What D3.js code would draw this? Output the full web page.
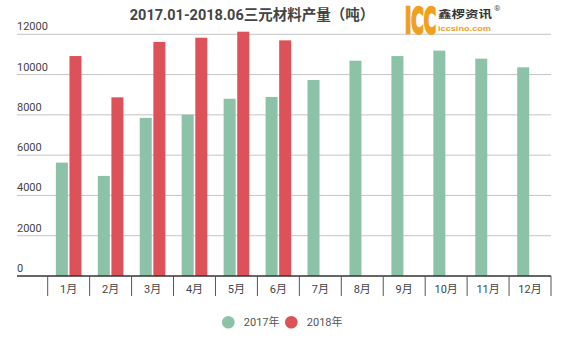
<!DOCTYPE html>
<html><head><meta charset="utf-8">
<script src="https://cdn.jsdelivr.net/npm/d3@7"></script>
<style>body{margin:0;background:#fff;}svg{display:block;font-family:Roboto,"Noto Sans CJK SC",sans-serif;}</style>
</head><body>
<script>
const months = ["1月","2月","3月","4月","5月","6月","7月","8月","9月","10月","11月","12月"];
const seriesNames = ["2017年","2018年"];
const values2017 = [5630,4970,7850,8010,8800,8890,9730,10690,10920,11190,10790,10360];
const values2018 = [10920,8870,11620,11830,12130,11700,null,null,null,null,null,null];
const yTicks = [0,2000,4000,6000,8000,10000,12000];
const colors = ["#8cc2a8","#dc5258"];
const title = "2017.01-2018.06三元材料产量（吨）";

const W=573,H=345;
const svg=d3.select("body").append("svg").attr("width",W).attr("height",H);
const x=d3.scaleBand().domain(months).range([47.7,551]);
const y=d3.scaleLinear().domain([0,12000]).range([276,34.3]);

// gridlines + labels
yTicks.forEach(t=>{
  if(t>0) svg.append("line").attr("x1",17).attr("x2",551).attr("y1",y(t)).attr("y2",y(t)).attr("stroke","#c4c4c4").attr("stroke-width",1);
  svg.append("text").attr("x",17).attr("y",y(t)-4).attr("font-size",11).attr("fill","#444").text(t);
});

const bw=12, gap=1.6;
const groups=svg.append("g");
months.forEach((m,i)=>{
  const c=x(m)+x.bandwidth()/2;
  groups.append("rect").attr("x",c-bw-gap/2).attr("width",bw).attr("y",y(values2017[i])).attr("height",y(0)-y(values2017[i])).attr("fill",colors[0]);
  if(values2018[i]!=null)
    groups.append("rect").attr("x",c+gap/2).attr("width",bw).attr("y",y(values2018[i])).attr("height",y(0)-y(values2018[i])).attr("fill",colors[1]);
});

// x axis
svg.append("line").attr("x1",17).attr("x2",551).attr("y1",276).attr("y2",276).attr("stroke","#333").attr("stroke-width",1.3);
const xa=d3.axisBottom(x).tickSize(0).tickPadding(9);
const gx=svg.append("g").attr("transform","translate(0,276)").call(xa);
gx.select(".domain").remove();
gx.selectAll("text").attr("font-size",11).attr("fill","#444").attr("font-family",'Roboto,"Noto Sans CJK SC",sans-serif');
const bounds=months.map(m=>x(m)).concat([x.range()[1]]);
svg.selectAll(".sep").data(bounds).enter().append("line").attr("x1",d=>d).attr("x2",d=>d).attr("y1",276).attr("y2",296).attr("stroke","#555").attr("stroke-width",1);

// title
svg.append("text").attr("x",252).attr("y",20).attr("text-anchor","middle").attr("font-size",14.5).attr("font-weight","bold").attr("fill","#444").text(title);

// logo
const icc=svg.append("text").attr("x",0).attr("y",0).attr("font-size",36).attr("font-weight","bold").attr("fill","#f0a01c").attr("stroke","#f0a01c").attr("stroke-width",2.6).attr("stroke-linejoin","miter").attr("font-family","'Liberation Sans Narrow','DejaVu Sans Condensed',sans-serif").text("ICC");
const nat=icc.node().getComputedTextLength()||50;
icc.attr("transform",`translate(405,32.5) scale(${31/nat},1)`);
svg.append("text").attr("x",438).attr("y",18).attr("font-size",10.5).attr("font-weight","bold").attr("fill","#333").attr("font-family","'Noto Sans CJK SC',sans-serif").attr("textLength",54).attr("lengthAdjust","spacingAndGlyphs").text("鑫椤资讯");
svg.append("text").attr("x",438).attr("y",31).attr("font-size",8).attr("font-weight","bold").attr("fill","#f0a01c").attr("font-family","'Liberation Sans',Arial,sans-serif").attr("textLength",53).attr("lengthAdjust","spacingAndGlyphs").text("iccsino.com");
svg.append("text").attr("x",494).attr("y",11).attr("font-size",8).attr("fill","#555").text("®");

// legend
const lx=[228.3,291.3];
seriesNames.forEach((n,i)=>{
  svg.append("circle").attr("cx",lx[i]).attr("cy",322.3).attr("r",6.3).attr("fill",colors[i]);
  svg.append("text").attr("x",lx[i]+15.5).attr("y",326.3).attr("font-size",11).attr("fill","#555").text(n);
});
</script>
</body></html>
